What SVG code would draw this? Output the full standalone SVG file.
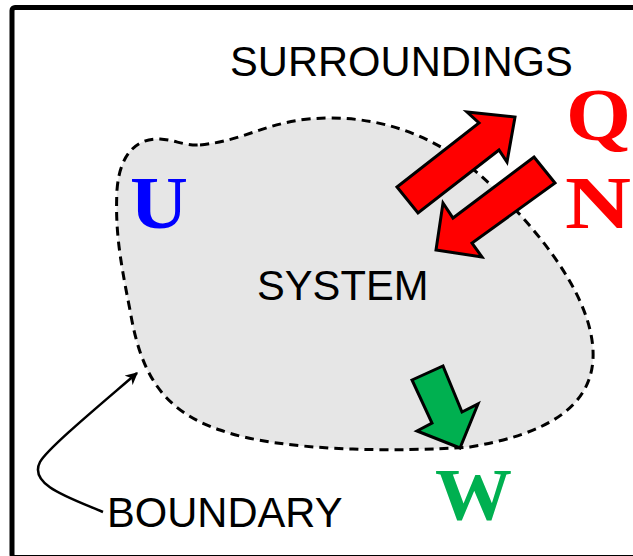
<svg xmlns="http://www.w3.org/2000/svg" width="633" height="556" viewBox="0 0 633 556">
<defs>
<style>
.lbl{font-family:"Liberation Sans",Arial,sans-serif;font-size:41.7px;fill:#000}
.sym{font-family:"Liberation Serif","Times New Roman",serif;font-weight:bold;font-size:75px}
.arr{stroke:#000;stroke-width:3;stroke-linejoin:miter}
</style>
<marker id="ah" viewBox="0 0 10 10" refX="9" refY="5" markerWidth="5" markerHeight="5" orient="auto" markerUnits="strokeWidth">
<path d="M0,0 L10,5 L0,10 L3,5 Z" fill="#000"/>
</marker>
</defs>
<rect x="0" y="0" width="633" height="556" fill="#fff"/>
<rect id="frame" x="12" y="7.5" width="640" height="550" rx="3" fill="#fff" stroke="#000" stroke-width="5"/>
<g id="system">
<path d="M 200,145 C 250,140 270,118 330,118 C 390,118 440,140 480,175 C 530,220 590,290 593,350 C 596,410 540,435 470,447 C 400,452 280,452 220,430 C 160,410 140,370 130,310 C 120,260 115,230 117,190 C 120,150 140,138 160,139 C 175,140 185,146 200,145 Z" fill="#e6e6e6" stroke="#000" stroke-width="3" stroke-dasharray="9,6"/>
<text class="lbl" x="257" y="300">SYSTEM</text>
</g>
<g id="surroundings"><text class="lbl" x="230" y="76">SURROUNDINGS</text></g>
<g id="U"><text class="sym" x="130" y="228" fill="#0000ff" textLength="58" lengthAdjust="spacingAndGlyphs">U</text></g>
<g id="Q"><text class="sym" x="566" y="140" fill="#ff0000" textLength="65" lengthAdjust="spacingAndGlyphs">Q</text></g>
<g id="N"><text class="sym" x="565" y="228" fill="#ff0000" textLength="66" lengthAdjust="spacingAndGlyphs">N</text></g>
<g id="W"><text class="sym" x="435" y="520" fill="#00b050" textLength="77" lengthAdjust="spacingAndGlyphs">W</text></g>
<g id="boundary"><text class="lbl" x="107" y="527">BOUNDARY</text></g>
<g id="connectors">
<polygon class="arr" fill="#ff0000" points="397,187 479,123 467,112 515,117 507,162 499,150 418,213"/>
<polygon class="arr" fill="#ff0000" points="534,157 555,183 472,243 482,257 436,250 443,203 453,218"/>
<polygon class="arr" fill="#00b050" points="412,380 443,366 462,412 478,404 460,448 417,431 432,423"/>
<path d="M 103,512 C 70,498 28,485 40,462 C 48,448 100,405 137,373" fill="none" stroke="#000" stroke-width="2.5" marker-end="url(#ah)"/>
</g>
</svg>
